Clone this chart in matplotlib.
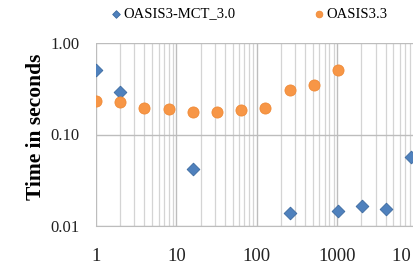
import matplotlib.pyplot as plt
import numpy as np
from matplotlib.ticker import LogLocator, FixedLocator, NullFormatter
from matplotlib.transforms import Bbox

# cores
x_mct = [1, 2, 16, 256, 1024, 2048, 4096, 8192]
t_mct = [0.51, 0.29, 0.042, 0.014, 0.0146, 0.0167, 0.0153, 0.057]
x_o33 = [1, 2, 4, 8, 16, 32, 64, 128, 256, 512, 1024]
t_o33 = [0.232, 0.228, 0.193, 0.188, 0.175, 0.176, 0.184, 0.196, 0.304, 0.348, 0.507]

xticks = [1, 10, 100, 1000, 10000]
xticklabels = ['1', '10', '100', '1000', '10 000']
yticks = [0.01, 0.1, 1.0]
yticklabels = ['0.01', '0.10', '1.00']

plt.rcParams['font.family'] = ['Liberation Serif', 'DejaVu Serif']

# wider canvas, the right part gets cropped away when saving (chart is cut in the original)
W = 520
fig = plt.figure(figsize=(W / 100, 2.69), dpi=100)
ax = fig.add_axes([96/W, 43/269, 402/W, 183/269])

ax.set_xscale('log')
ax.set_yscale('log')
ax.set_xlim(1, 1e5)
ax.set_ylim(0.01, 1.0)

ax.xaxis.set_major_locator(FixedLocator(xticks))
ax.set_xticklabels(xticklabels)
ax.xaxis.set_minor_locator(LogLocator(base=10, subs=np.arange(2, 10)))
ax.xaxis.set_minor_formatter(NullFormatter())
ax.yaxis.set_major_locator(FixedLocator(yticks))
ax.set_yticklabels(yticklabels)
ax.yaxis.set_minor_locator(FixedLocator([]))

ax.grid(True, which='major', axis='both', color='#bdbdbd', lw=1.0)
ax.grid(True, which='minor', axis='x', color='#d4d4d4', lw=0.9)
ax.set_axisbelow(True)
for s in ax.spines.values():
    s.set_visible(False)
ax.spines['bottom'].set_visible(True)
ax.spines['bottom'].set_color('#bdbdbd')

ax.tick_params(which='both', length=0)
ax.tick_params(axis='x', labelsize=13.5, pad=16, colors='#222222')
ax.tick_params(axis='y', labelsize=12, pad=12, colors='#222222')

ax.scatter(x_mct, t_mct, marker='D', s=42, color='#4F81BD', edgecolor='#3c6aa0',
           linewidth=0.6, zorder=3, label='OASIS3-MCT_3.0')
ax.scatter(x_o33, t_o33, marker='o', s=64, color='#F79646', edgecolor='#f08a36',
           linewidth=0.6, zorder=3, label='OASIS3.3')

ax.set_ylabel('Time in seconds', fontsize=15.5, fontweight='bold')
ax.yaxis.set_label_coords(-0.124, 0.544)

fig.legend(loc='center left', bbox_to_anchor=(103/W, 1 - 14/269), ncol=2,
           frameon=False, fontsize=10.5, handletextpad=0.0, columnspacing=5.2,
           handlelength=1.0, markerscale=0.6, borderaxespad=0)

fig.savefig('out.png', dpi=100, bbox_inches=Bbox([[0, 0], [4.14, 2.69]]))
